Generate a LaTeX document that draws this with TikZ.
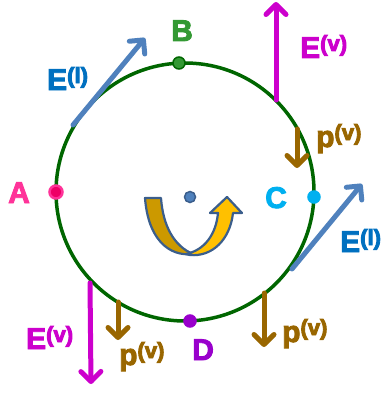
\documentclass[tikz,border=0pt]{standalone}
\usepackage{fontspec}
\setmainfont{Liberation Sans}
\newfontfamily\lblfont{Liberation Sans Bold}
\usetikzlibrary{arrows.meta}
\definecolor{ringgreen}{HTML}{006600}
\definecolor{bgreen}{HTML}{339933}
\definecolor{apink}{HTML}{FF3399}
\definecolor{apinkd}{HTML}{EE0066}
\definecolor{ccyan}{HTML}{00B0F0}
\definecolor{dpurple}{HTML}{9900CC}
\definecolor{elarrow}{HTML}{4F81BD}
\definecolor{eltext}{HTML}{0070C0}
\definecolor{evcol}{HTML}{CC00CC}
\definecolor{pcol}{HTML}{996600}
\definecolor{goldd}{HTML}{CC9900}
\definecolor{goldl}{HTML}{FFC000}
\definecolor{outl}{HTML}{3B5E8C}
\newcommand{\heavy}[1]{\special{pdf:code 2 Tr 0.9 w}#1\special{pdf:code 0 Tr}}
\newcommand{\suplbl}[2]{\heavy{#1\raisebox{7pt}{\fontsize{22}{22}\selectfont\lblfont #2}}}
\begin{document}
\begin{tikzpicture}[x=1pt,y=-1pt,
  lbl/.style={font=\fontsize{30}{30}\selectfont\lblfont, inner sep=0pt, anchor=base west},
  vec/.style={line width=5pt, line cap=round, -{Straight Barb[length=10pt,width=20pt,line cap=round,line join=round]}},
  dotmark/.style={circle, inner sep=0pt, minimum size=12pt, line width=1.5pt}]
\useasboundingbox (0,0) rectangle (380,396);
% ring
\node[circle, draw=ringgreen, line width=3.5pt, minimum size=258pt, inner sep=0pt] (ring) at (185,192) {};
% rotation arrow
\draw[outl, line width=2.2pt, line join=round, fill=goldd]
  (145,198) -- (161,198) .. controls (163,226) and (174,246) .. (193,254)
  .. controls (168,257) and (148,238) .. (145,198) -- cycle;
\draw[outl, line width=2.2pt, line join=round, fill=goldl]
  (186,254) .. controls (205,250) and (216,234) .. (218,213) -- (210,213) -- (227,197)
  -- (242,213) -- (233,213) .. controls (230,240) and (212,257) .. (190,255) -- cycle;
\node[dotmark, fill=elarrow, draw=outl, minimum size=11pt] (O) at (190,197) {};
% points
\node[dotmark, fill=apinkd, draw=apink, minimum size=13pt, line width=2.5pt] (A) at (56,192) {};
\node[dotmark, fill=bgreen, draw=ringgreen] (B) at (179,63) {};
\node[dotmark, fill=ccyan, draw=ccyan] (C) at (314,197) {};
\node[dotmark, fill=dpurple, draw=dpurple] (D) at (190,321) {};
% vectors
\coordinate (el1s) at (73,125); \coordinate (el1e) at (145,38);
\coordinate (el2s) at (292,269); \coordinate (el2e) at (362,184);
\coordinate (ev1s) at (276,100); \coordinate (ev1e) at (276,2);
\coordinate (ev2s) at (90,283); \coordinate (ev2e) at (91,384);
\coordinate (p1s) at (297,129); \coordinate (p1e) at (297,168);
\coordinate (p2s) at (118,302); \coordinate (p2e) at (118,340);
\coordinate (p3s) at (264,293); \coordinate (p3e) at (264,347);
\draw[vec, elarrow] (el1s) -- (el1e);
\draw[vec, elarrow] (el2s) -- (el2e);
\draw[vec, evcol] (ev1s) -- (ev1e);
\draw[vec, evcol] (ev2s) -- (ev2e);
\draw[vec, pcol] (p1s) -- (p1e);
\draw[vec, pcol] (p2s) -- (p2e);
\draw[vec, pcol] (p3s) -- (p3e);
% point labels
\node[lbl, text=apink] (Alab) at (8,203) {\heavy{A}};
\node[lbl, text=bgreen] (Blab) at (171,41) {\heavy{B}};
\node[lbl, text=ccyan] (Clab) at (265,208) {\heavy{C}};
\node[lbl, text=dpurple] (Dlab) at (192,360) {\heavy{D}};
% vector labels
\node[lbl, text=eltext] (El1) at (47,90) {\suplbl{E}{(l)}};
\node[lbl, text=eltext] (El2) at (340,252) {\suplbl{E}{(l)}};
\node[lbl, text=evcol] (Ev1) at (300,58) {\suplbl{E}{(v)}};
\node[lbl, text=evcol] (Ev2) at (26,349) {\suplbl{E}{(v)}};
\node[lbl, text=pcol] (P1) at (316,147) {\suplbl{p}{(v)}};
\node[lbl, text=pcol] (P2) at (119,365) {\suplbl{p}{(v)}};
\node[lbl, text=pcol] (P3) at (282,342) {\suplbl{p}{(v)}};
\end{tikzpicture}
\end{document}
